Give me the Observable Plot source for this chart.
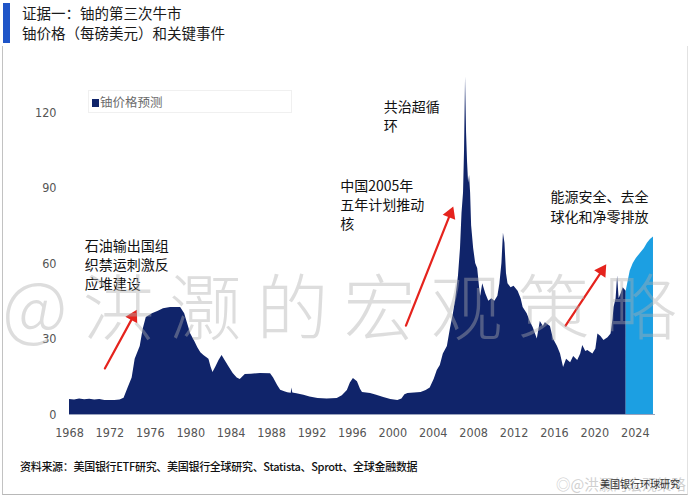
<!DOCTYPE html>
<html>
<head>
<meta charset="utf-8">
<script src="https://cdn.jsdelivr.net/npm/d3@7"></script>
<script src="https://cdn.jsdelivr.net/npm/@observablehq/plot@0.6"></script>
<style>
  body { margin:0; width:690px; height:500px; position:relative; background:#fff; overflow:hidden;
         font-family:"Noto Sans CJK SC","Noto Sans",sans-serif; }
  .abs { position:absolute; }
</style>
</head>
<body>
<div class="abs" style="left:2px;top:46px;width:684px;height:448px;border-left:1px solid #c2c2c2;border-right:1px solid #e2e2e2;border-bottom:1px solid #b8b8b8;"></div>
<div class="abs" style="left:3px;top:3px;width:7px;height:40px;background:#1f55c8;"></div>
<div class="abs" style="left:22px;top:3px;font-size:14.5px;line-height:20px;color:#1a1a1a;">证据一：铀的第三次牛市<br>铀价格（每磅美元）和关键事件</div>
<div id="chart" class="abs" style="left:0;top:48px;"></div>
<div class="abs" style="left:88px;top:90px;width:202px;height:21px;border:1px solid #f0f0f0;"></div>
<div class="abs" style="left:92px;top:92px;font-size:12.5px;color:#6b6b6b;white-space:nowrap;"><span style="display:inline-block;width:7px;height:8px;background:#10246a;margin-right:1px;"></span>铀价格预测</div>
<div class="abs" style="left:2px;top:250px;font-size:72px;letter-spacing:15px;font-weight:300;color:rgba(175,175,175,0.42);white-space:nowrap;">@洪灏的宏观策略</div>
<div class="abs" style="left:20px;top:458px;font-size:11px;color:#111;font-weight:500;white-space:nowrap;letter-spacing:-0.3px;">资料来源：美国银行ETF研究、美国银行全球研究、Statista、Sprott、全球金融数据</div>
<div class="abs" style="left:556px;top:473px;font-size:14.5px;color:#d0d0d0;white-space:nowrap;">◎@洪灏的宏观策略</div>
<div class="abs" style="left:600px;top:476px;font-size:10px;color:#333;white-space:nowrap;">美国银行环球研究</div>
<script>
// ---- data ----
const histYears = [1968.0,1968.5,1969.0,1969.5,1970.0,1970.5,1971.0,1971.5,1972.0,1972.5,1973.0,1973.4,1973.8,1974.2,1974.5,1975.0,1975.3,1975.6,1976.2,1976.8,1977.3,1978.0,1979.0,1979.4,1979.7,1980.0,1980.4,1980.7,1981.0,1981.3,1981.8,1982.0,1982.2,1982.5,1982.8,1983.1,1983.4,1983.7,1984.2,1984.6,1984.9,1985.4,1986.0,1986.9,1987.9,1988.2,1988.6,1988.9,1989.3,1989.6,1989.95,1990.0,1990.1,1990.5,1991.2,1991.8,1992.6,1993.5,1994.5,1995.0,1995.5,1995.8,1996.1,1996.5,1996.8,1997.0,1997.8,1998.4,1999.1,1999.8,2000.5,2000.9,2001.2,2001.5,2002.8,2003.3,2003.7,2004.1,2004.4,2004.7,2005.0,2005.4,2005.7,2006.0,2006.2,2006.5,2006.7,2006.85,2007.0,2007.1,2007.2,2007.3,2007.4,2007.5,2007.6,2007.7,2007.8,2008.0,2008.2,2008.4,2008.6,2008.7,2008.9,2009.2,2009.5,2009.8,2010.1,2010.4,2010.6,2010.8,2010.95,2011.1,2011.25,2011.4,2011.7,2012.0,2012.4,2012.7,2012.9,2013.3,2013.6,2013.9,2014.3,2014.6,2014.9,2015.1,2015.6,2015.9,2016.3,2016.6,2016.9,2017.2,2017.6,2017.9,2018.3,2018.6,2018.8,2019.1,2019.3,2019.8,2020.1,2020.3,2020.6,2020.9,2021.3,2021.6,2021.8,2021.9,2022.1,2022.25,2022.4,2022.6,2022.8,2023.1];
const histPrices = [6.0,5.8,6.2,5.9,6.1,5.8,6.0,5.6,5.6,5.6,5.8,6.5,10.5,14.5,22,27,34,38.5,40,41,42,42.5,42.5,40,36,32,29,26.5,24.5,23.4,22,19,16.7,19,21.5,23.4,21.5,19.5,16.3,14.5,13.9,15.9,16.0,16.3,16.2,14.5,11.5,9.6,9.0,8.6,8.4,10.5,8.5,8.2,7.6,7.0,6.4,6.2,6.4,7.5,9.5,12.5,14.3,13.0,10.0,8.7,8.3,7.6,6.8,6.0,5.6,6.2,7.8,8.3,8.7,9.5,10.5,14,17.5,19.5,24,27,34,40,45,55,66,80,88,105,134,112,100,92,95,88,75,66,60,58,50,47,52,48,45,46,45,47,52,60,72,68,56,52,50.4,51,49,46,42.5,40,37,34.5,30,37,35,36.5,35,30,27,24,18.7,22,20.6,23,21.5,24,27.4,25,25.4,24,26,32,31,29.4,30.5,32,38,42.5,46,55,46,48,50.4,49];
const fcYears  = [2023.1,2023.3,2023.5,2023.8,2024.1,2024.5,2024.9,2025.2,2025.5,2025.8];
const fcPrices = [49,53,57,60,62,64,66,68,69.5,70.5];
const xTicks = [1968,1972,1976,1980,1984,1988,1992,1996,2000,2004,2008,2012,2016,2020,2024];
const yTicks = [0,30,60,90,120];
const noteTexts = ["石油输出国组\n织禁运刺激反\n应堆建设", "中国2005年\n五年计划推动\n核", "共治超循\n环", "能源安全、去全\n球化和净零排放"];
const noteYears = [1969.5, 1994.8, 1999.1, 2015.6];
const notePrices = [70.6, 94.4, 125.8, 89.7];
const arrowFromYear  = [1971.5, 2001.3, 2017.1];
const arrowFromPrice = [18.3, 35.3, 35.3];
const arrowToYear    = [1974.3, 2005.7, 2020.7];
const arrowToPrice   = [38.9, 79.8, 57.1];

// ---- build tables ----
const hist = histYears.map((y,i)=>({year:y, price:histPrices[i]}));
const fc = fcYears.map((y,i)=>({year:y, price:fcPrices[i]}));
const notes = noteTexts.map((t,i)=>({text:t, year:noteYears[i], price:notePrices[i]}));

const W = 690, H = 400, ML = 69, MR = 35, MT = 64, MB = 34;
const xDomain = [1968, 2026], yDomain = [0, 120];
const xs = Plot.scale({x:{domain:xDomain, range:[ML, W-MR]}});
const ys = Plot.scale({y:{domain:yDomain, range:[H-MB, MT]}});
const arrows = arrowFromYear.map((_,i)=>{
  const dx = xs.apply(arrowToYear[i]) - xs.apply(arrowFromYear[i]);
  const dy = ys.apply(arrowToPrice[i]) - ys.apply(arrowFromPrice[i]);
  return {x1:arrowFromYear[i], y1:arrowFromPrice[i], x2:arrowToYear[i], y2:arrowToPrice[i],
          rot: Math.atan2(dx, -dy)*180/Math.PI};
});

const navy = "#10246a", light = "#1c9fe2", red = "#e5231d";

const chart = Plot.plot({
  width: W, height: H,
  marginLeft: ML, marginRight: MR, marginTop: MT, marginBottom: MB,
  style: {fontFamily: "'Liberation Sans Narrow','DejaVu Sans Condensed',sans-serif", fontSize: "12.5px", color:"#555", background:"transparent"},
  x: {domain: xDomain, ticks: xTicks, tickFormat: d=>String(d), tickSize: 0, tickPadding: 14, label: null},
  y: {domain: yDomain, ticks: yTicks, tickSize: 0, tickPadding: 13, label: null},
  marks: [
    Plot.areaY(hist, {x:"year", y:"price", fill: navy}),
    Plot.areaY(fc, {x:"year", y:"price", fill: light}),
    Plot.ruleY([0], {stroke:"#9aa3bd", strokeWidth:1}),
    Plot.arrow(arrows, {x1:"x1", y1:"y1", x2:"x2", y2:"y2", stroke: red, strokeWidth: 2.2, headLength: 0}),
    Plot.dot(arrows, {x:"x2", y:"y2", symbol:"triangle", rotate:"rot", r: 5, fill: red, stroke: "none"}),
    Plot.text(notes, {x:"year", y:"price", text:"text", textAnchor:"start", lineAnchor:"top",
      fontFamily:"'Noto Sans CJK SC',sans-serif", fontSize:14, fill:"#111", lineHeight:1.38})
  ]
});
document.getElementById("chart").appendChild(chart);
</script>
</body>
</html>
